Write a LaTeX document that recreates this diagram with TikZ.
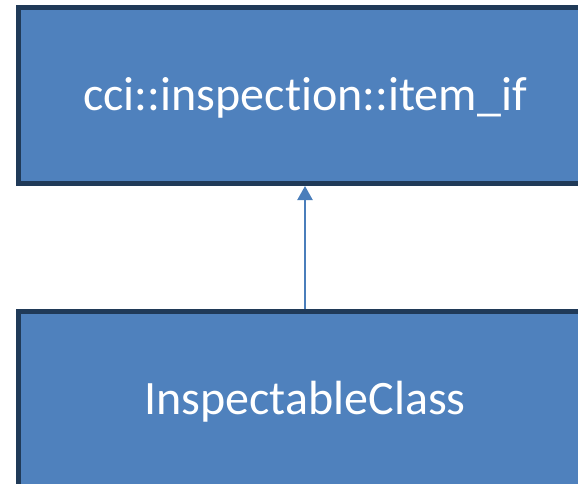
\documentclass[tikz,border=0pt]{standalone}
\usepackage{fontspec}
\setmainfont[Ligatures=NoCommon]{Carlito}
\usetikzlibrary{arrows.meta}
\definecolor{boxfill}{HTML}{4F81BD}
\definecolor{boxline}{HTML}{203A58}
\definecolor{arrowc}{HTML}{4A7EBB}
\begin{document}
\begin{tikzpicture}[x=1pt,y=-1pt,
  classbox/.style={draw=boxline, line width=5pt, fill=boxfill, text=white,
    minimum width=574pt, minimum height=176pt, inner sep=0pt,
    text height=32pt, text depth=2pt,
    font=\fontsize{48}{53}\selectfont}]
\useasboundingbox (0,0) rectangle (578,484);
\clip (0,0) rectangle (578,484);
\node[classbox] (top) at (305,95.5) {cci::inspection::item\_if};
\node[classbox] (bot) at (305,399.5) {InspectableClass};
\draw[arrowc, line width=2.2pt, -{Triangle[length=14pt,width=15pt]}] (bot.north) -- (top.south);
\end{tikzpicture}
\end{document}
